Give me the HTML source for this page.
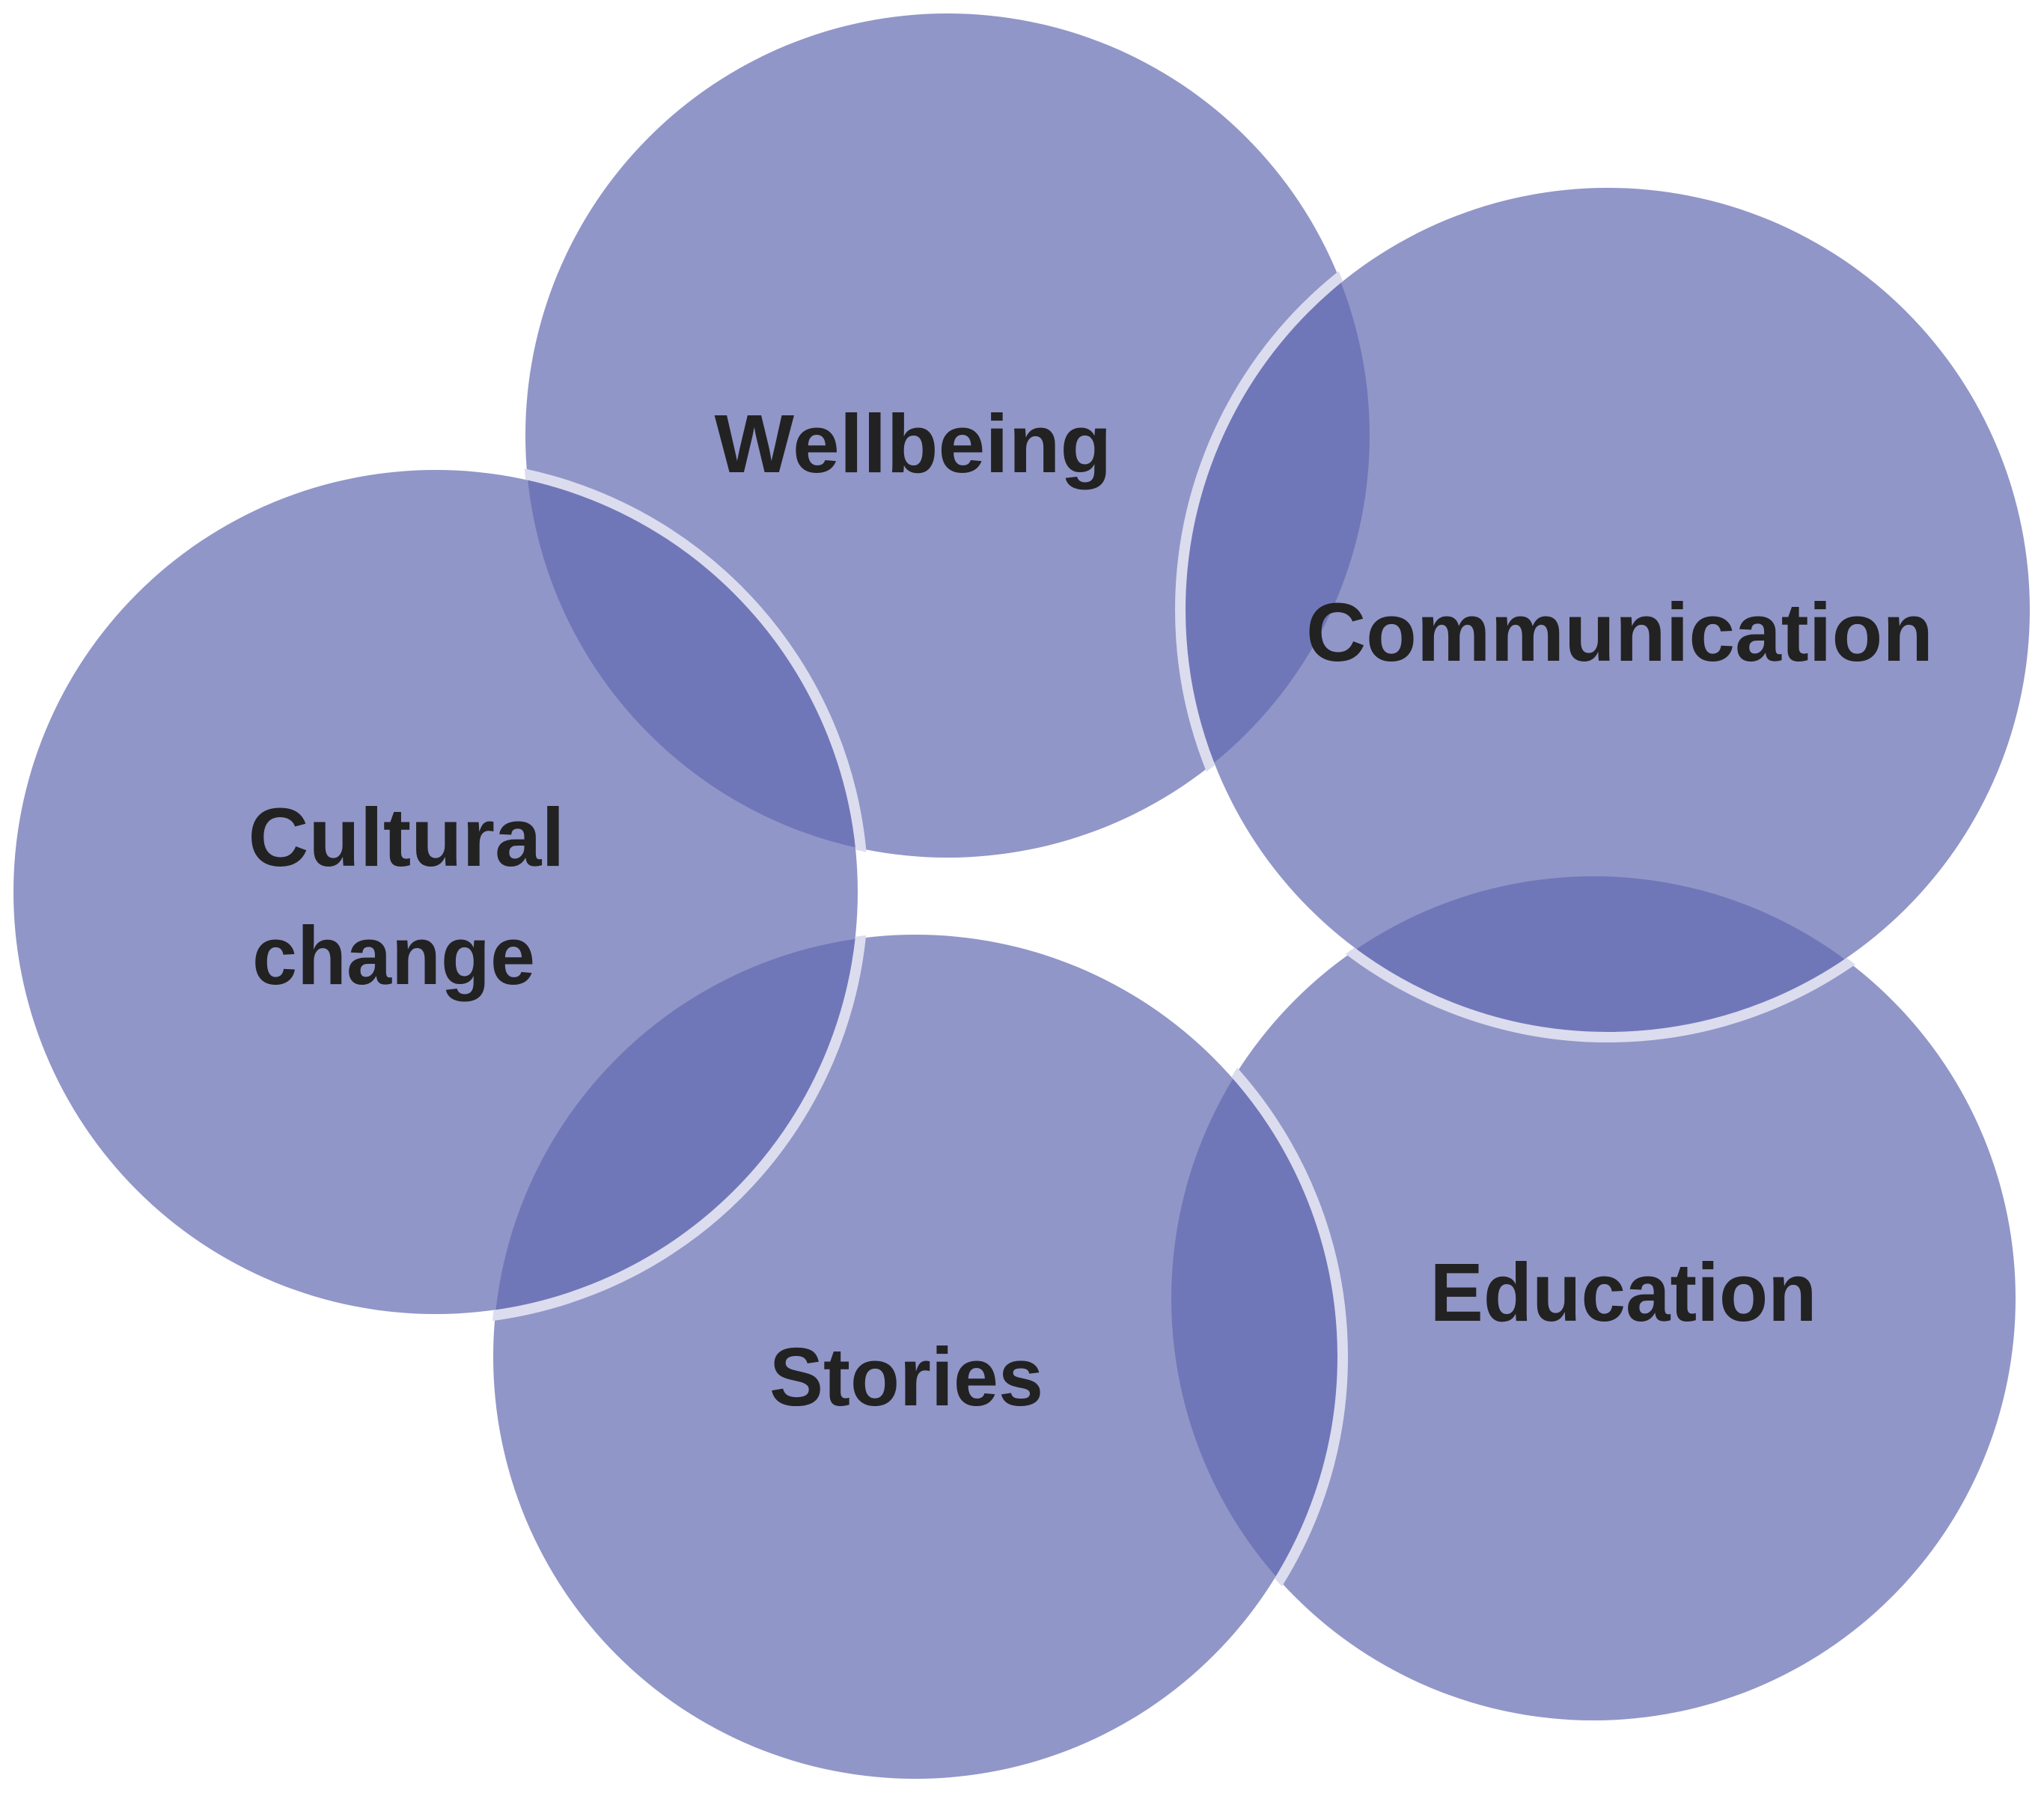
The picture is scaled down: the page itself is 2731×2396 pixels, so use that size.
<!DOCTYPE html>
<html><head><meta charset="utf-8"><style>
html,body{margin:0;padding:0;background:#fff;}
svg{display:block}
text{font-family:"Liberation Sans",sans-serif;font-weight:bold;fill:#222;font-size:110px;text-anchor:middle}
</style></head><body>
<svg width="2731" height="2396" viewBox="0 0 2731 2396" xmlns="http://www.w3.org/2000/svg">
<defs>
<clipPath id="cW"><circle cx="1266" cy="582" r="567"/></clipPath>
<clipPath id="cS"><circle cx="1223" cy="1813" r="567"/></clipPath>
<clipPath id="cE"><circle cx="2129" cy="1735" r="567"/></clipPath>
</defs>
<g fill="rgb(98,105,176)" fill-opacity="0.7">
<circle cx="1266" cy="582" r="564"/>
<circle cx="2148" cy="815" r="564"/>
<circle cx="582" cy="1192" r="564"/>
<circle cx="1223" cy="1813" r="564"/>
<circle cx="2129" cy="1735" r="564"/>
</g>
<g fill="none" stroke="#dcdcef" stroke-width="14">
<g clip-path="url(#cW)"><circle cx="582" cy="1192" r="571"/></g>
<g clip-path="url(#cS)"><circle cx="582" cy="1192" r="571"/></g>
<g clip-path="url(#cW)"><circle cx="2148" cy="815" r="571"/></g>
<g clip-path="url(#cE)"><circle cx="2148" cy="815" r="571"/></g>
<g clip-path="url(#cE)"><circle cx="1223" cy="1813" r="571"/></g>
</g>
<text x="1220" y="631" textLength="531" lengthAdjust="spacingAndGlyphs">Wellbeing</text>
<text x="2164" y="883" textLength="838" lengthAdjust="spacingAndGlyphs">Communication</text>
<text x="543" y="1157" textLength="423" lengthAdjust="spacingAndGlyphs">Cultural</text>
<text x="526" y="1315" textLength="378" lengthAdjust="spacingAndGlyphs">change</text>
<text x="1211" y="1878" textLength="366" lengthAdjust="spacingAndGlyphs">Stories</text>
<text x="2169" y="1765" textLength="517" lengthAdjust="spacingAndGlyphs">Education</text>
</svg>
</body></html>
